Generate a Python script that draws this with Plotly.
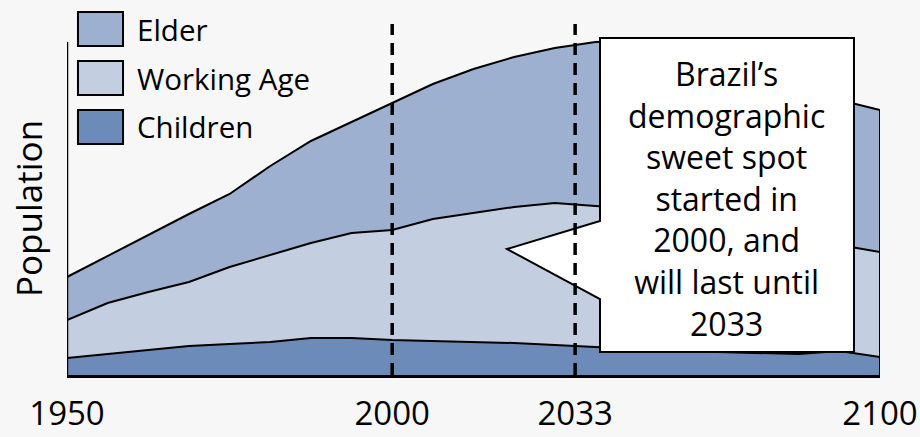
import plotly.graph_objects as go

# Population by age group, sampled at evenly spaced points along the timeline
period = list(range(21))
children = [17, 21, 25, 29, 31, 33, 37, 37, 35, 34, 33, 32, 30, 28, 26, 24, 23, 22, 21, 24, 18]
working_age = [38, 51, 58, 64, 77, 87, 95, 105, 110, 122, 129, 136, 142, 141, 140, 138, 134, 129, 122, 106, 105]
elder = [43, 47, 57, 68, 73, 89, 102, 111, 127, 135, 144, 150, 155, 164, 169, 170, 168, 162, 152, 145, 142]

# Year labels and where they sit on the timeline
year_pos = [0, 8, 12.5, 20]
year_labels = ["1950", "2000", "2033", "2100"]
sweet_spot_bounds = [8, 12.5]

series_names = ["Elder", "Working Age", "Children"]
series_colors = {"Elder": "#9DB0CF", "Working Age": "#C3CEE1", "Children": "#6C8BB8"}

FONT = "Open Sans"
Y_TOP = 353      # top of the plotting range
AXIS_TOP = 333   # top of the drawn y-axis line

fig = go.Figure()
for name, vals in [("Children", children), ("Working Age", working_age), ("Elder", elder)]:
    fig.add_trace(go.Scatter(
        x=period, y=vals, name=name, mode="lines",
        stackgroup="pop", line=dict(color="black", width=2),
        fillcolor=series_colors[name], showlegend=False, hoverinfo="skip",
    ))

total_last = children[-1] + working_age[-1] + elder[-1]

shapes = []
# y-axis line
shapes.append(dict(type="line", xref="x", yref="y", x0=period[0], x1=period[0], y0=0, y1=AXIS_TOP,
                   line=dict(color="black", width=2.5), layer="above"))
# closing edge of the stacked areas
shapes.append(dict(type="line", xref="x", yref="y", x0=period[-1], x1=period[-1], y0=0, y1=total_last,
                   line=dict(color="black", width=2), layer="above"))

# callout box with pointer
bx0, bx1, by0, by1 = 0.6556, 0.968, 0.0652, 0.9547
tip_x, tip_y, p_hi, p_lo = 0.5412, 0.3569, 0.4363, 0.2153
callout_path = (f"M {bx0},{by1} L {bx1},{by1} L {bx1},{by0} L {bx0},{by0} "
                f"L {bx0},{p_lo} L {tip_x},{tip_y} L {bx0},{p_hi} Z")
shapes.append(dict(type="path", xref="paper", yref="paper", path=callout_path,
                   fillcolor="white", line=dict(color="black", width=2), layer="above"))

# dashed markers for the start and end of the sweet spot
for xv in sweet_spot_bounds:
    shapes.append(dict(type="line", xref="x", yref="y", x0=xv, x1=xv, y0=0, y1=Y_TOP - 2,
                       line=dict(color="black", width=3.5, dash="12px,8px"), layer="above"))

annotations = []
# custom legend
legend_rows = [(1.0283, 0.932), (0.8895, 0.7932), (0.7507, 0.6544)]
for name, (ytop, ybot) in zip(series_names, legend_rows):
    shapes.append(dict(type="rect", xref="paper", yref="paper", x0=0.0135, x1=0.0689,
                       y0=ybot, y1=ytop, fillcolor=series_colors[name],
                       line=dict(color="black", width=2), layer="above"))
    annotations.append(dict(xref="paper", yref="paper", x=0.0836, y=(ytop + ybot) / 2,
                            text=name, showarrow=False, xanchor="left", yanchor="middle",
                            font=dict(family=FONT, size=29.5, color="black")))

annotations.append(dict(xref="paper", yref="paper", x=-0.048, y=0.473, text="Population",
                        textangle=-90, showarrow=False, xanchor="center", yanchor="middle",
                        font=dict(family=FONT, size=35, color="black")))

annotations.append(dict(xref="paper", yref="paper", x=(bx0 + bx1) / 2, y=0.5,
                        text="Brazil’s<br>demographic<br>sweet spot<br>started in<br>2000, and<br>will last until<br>2033",
                        showarrow=False, xanchor="center", yanchor="middle", align="center",
                        font=dict(family=FONT, size=32, color="black")))

fig.update_layout(
    width=920, height=437,
    margin=dict(l=67, r=40, t=22, b=62, autoexpand=False),
    paper_bgcolor="#F7F7F7", plot_bgcolor="#F7F7F7",
    shapes=shapes, annotations=annotations,
    xaxis=dict(range=[period[0], period[-1]], tickvals=year_pos, ticktext=year_labels,
               showgrid=False, zeroline=False, showline=True, linecolor="black", linewidth=2.5,
               ticks="", ticklabelstandoff=8, automargin=False, ticklabeloverflow="allow",
               tickfont=dict(family=FONT, size=33, color="black")),
    yaxis=dict(range=[0, Y_TOP], showgrid=False, zeroline=False, showline=False,
               showticklabels=False, ticks="", automargin=False),
)

fig.write_html("out.html")
